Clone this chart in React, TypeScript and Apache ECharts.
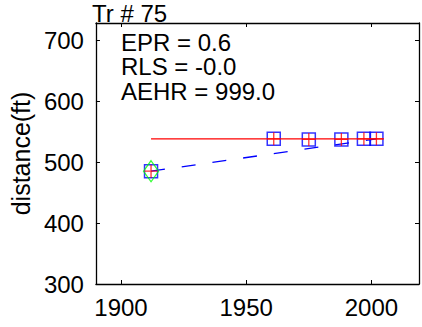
import React, { useEffect, useRef } from "react";
import * as echarts from "echarts";

const years = [1912, 1961, 1975, 1988, 1997, 2002];
const distances = [485, 538, 537, 537, 538, 538];
const firstPoint = [1912, 485];
const regressionLine = [[1912, 538], [2005, 538]];
const eprLine = [[1912, 485], [2002, 538]];
const xTicks = [1900, 1950, 2000];
const yTicks = [300, 400, 500, 600, 700];
const title = "Tr # 75";
const stats = ["EPR = 0.6", "RLS = -0.0", "AEHR = 999.0"];

const FONT = "'Liberation Sans', Arial, sans-serif";

export default function App() {
  const ref = useRef<HTMLDivElement>(null);
  useEffect(() => {
    if (!ref.current) return;
    const chart = echarts.init(ref.current, null, { renderer: "svg" });
    const pts = years.map((y, i) => [y, distances[i]]);
    const axisLine = { show: true, onZero: false, lineStyle: { color: "#000", width: 1.3 } };
    const tickStyle = { inside: true, length: 4, lineStyle: { color: "#000", width: 1 } };
    chart.setOption({
      animation: false,
      grid: { left: 95, top: 23, right: 3, bottom: 43, containLabel: false },
      xAxis: [
        {
          type: "value",
          min: 1890,
          max: 2019,
          axisLine,
          axisTick: { ...tickStyle, customValues: xTicks },
          axisLabel: {
            customValues: xTicks,
            formatter: (v: number) => String(v),
            color: "#000",
            fontSize: 24,
            fontFamily: FONT,
            margin: 11,
          },
          splitLine: { show: false },
        },
        {
          type: "value",
          position: "top",
          min: 1890,
          max: 2019,
          axisLine,
          axisTick: { ...tickStyle, customValues: xTicks },
          axisLabel: { show: false, customValues: xTicks },
          splitLine: { show: false },
        },
      ],
      yAxis: [
        {
          type: "value",
          min: 300,
          max: 728,
          name: "distance(ft)",
          nameLocation: "middle",
          nameGap: 56,
          nameTextStyle: { color: "#000", fontSize: 25, fontFamily: FONT },
          axisLine,
          axisTick: { ...tickStyle, customValues: yTicks },
          axisLabel: {
            customValues: yTicks,
            formatter: (v: number) => String(v),
            color: "#000",
            fontSize: 24,
            fontFamily: FONT,
            margin: 12,
          },
          splitLine: { show: false },
        },
        {
          type: "value",
          position: "right",
          min: 300,
          max: 728,
          axisLine,
          axisTick: { ...tickStyle, customValues: yTicks },
          axisLabel: { show: false, customValues: yTicks },
          splitLine: { show: false },
        },
      ],
      graphic: [
        {
          type: "text",
          x: 92,
          y: 13,
          style: {
            text: title,
            fontSize: 24,
            lineHeight: 24,
            fontFamily: FONT,
            fill: "#000",
            verticalAlign: "middle",
          },
        },
        ...stats.map((s, i) => ({
          type: "text",
          x: 121,
          y: 42 + i * 24.5,
          style: {
            text: s,
            fontSize: 24,
            lineHeight: 24,
            fontFamily: FONT,
            fill: "#000",
            verticalAlign: "middle",
          },
        })),
      ],
      series: [
        {
          type: "line",
          data: eprLine,
          symbol: "none",
          lineStyle: { color: "#0000ff", width: 1.3, type: [14, 17] },
          z: 2,
        },
        {
          type: "scatter",
          data: pts,
          symbol: "rect",
          symbolSize: 13,
          itemStyle: { color: "none", borderColor: "#0000ff", borderWidth: 1.5 },
          z: 3,
        },
        {
          type: "scatter",
          data: [firstPoint],
          symbol: "diamond",
          symbolSize: [15, 21],
          itemStyle: { color: "none", borderColor: "#00ff00", borderWidth: 1.3 },
          z: 4,
        },
        {
          type: "line",
          data: regressionLine,
          symbol: "none",
          lineStyle: { color: "#ff0000", width: 1.2 },
          z: 5,
        },
        {
          type: "scatter",
          data: pts,
          symbol: "path://M5 0 L5 10 M0 5 L10 5",
          symbolSize: 13,
          itemStyle: { color: "none", borderColor: "#ff0000", borderWidth: 1.3 },
          z: 6,
        },
      ],
    });
    return () => chart.dispose();
  }, []);
  return <div ref={ref} style={{ width: 422, height: 327, position: "absolute", left: 0, top: 0 }} />;
}
